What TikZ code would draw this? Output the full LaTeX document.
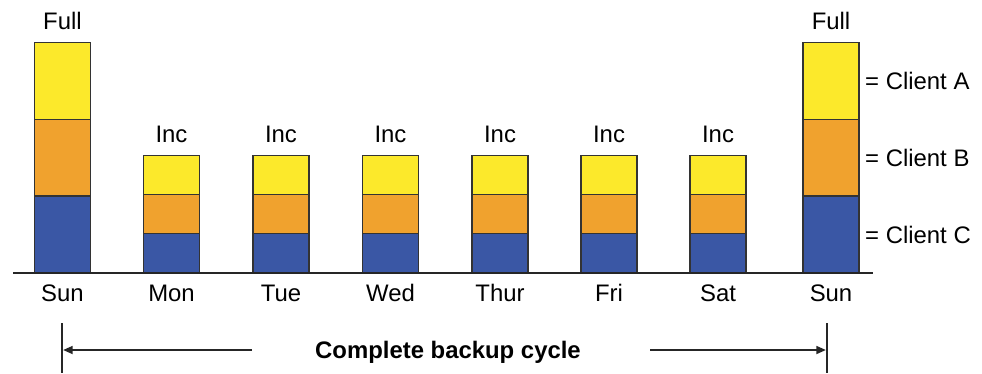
\documentclass[tikz,border=0pt]{standalone}
\usepackage{fontspec}
\setmainfont{Liberation Sans}
\usetikzlibrary{positioning, arrows.meta}
\definecolor{clientA}{RGB}{252,233,43}
\definecolor{clientB}{RGB}{240,162,46}
\definecolor{clientC}{RGB}{58,87,165}

\begin{document}
\begin{tikzpicture}[
        x=0.02cm, y=-0.02cm,
        seg/.style={rectangle, draw=black!80, line width=0.6pt, minimum width=1.12cm, inner sep=0pt, outer sep=0pt},
        segA/.style={seg, fill=clientA},
        segB/.style={seg, fill=clientB},
        segC/.style={seg, fill=clientC},
        full/.style={minimum height=1.54cm},
        inc/.style={minimum height=0.786cm},
        lbl/.style={font=\fontsize{13.6}{16}\selectfont},
        rule/.style={line width=1.1pt, black!85}
    ]
        \useasboundingbox (0,0) rectangle (982,373);

        % Full backups
        \node[segC, full, anchor=south] (SUN1C) at (62.5,273) {};
        \node[segB, full, above=0pt of SUN1C] (SUN1B) {};
        \node[segA, full, above=0pt of SUN1B] (SUN1A) {};
        \node[lbl, above=0.12cm of SUN1A] {Full};
        \node[lbl] (SUN1) at (62.5,293) {Sun};

        \node[segC, full, anchor=south] (SUN2C) at (831,273) {};
        \node[segB, full, above=0pt of SUN2C] (SUN2B) {};
        \node[segA, full, above=0pt of SUN2B] (SUN2A) {};
        \node[lbl, above=0.12cm of SUN2A] {Full};
        \node[lbl] (SUN2) at (831,293) {Sun};

        % Incremental backups
        \foreach \x/\d [count=\i] in {171.5/Mon, 281/Tue, 390.5/Wed, 500/Thur, 609/Fri, 718/Sat} {
            \node[segC, inc, anchor=south] (INC\i C) at (\x,273) {};
            \node[segB, inc, above=0pt of INC\i C] (INC\i B) {};
            \node[segA, inc, above=0pt of INC\i B] (INC\i A) {};
            \node[lbl, above=0.12cm of INC\i A] {Inc};
            \node[lbl] at (\x,293) {\d};
        }

        % Legend
        \node[lbl, right=0pt of SUN2A] {= Client A};
        \node[lbl, right=0pt of SUN2B] {= Client B};
        \node[lbl, right=0pt of SUN2C] {= Client C};

        % Baseline
        \coordinate (BASEL) at (13,273);
        \coordinate (BASER) at (873,273);
        \draw[rule] (BASEL) -- (BASER);

        % Cycle
        \coordinate (TICKL) at (62,323);
        \coordinate (TICKR) at (827,323);
        \draw[rule] (TICKL) -- ++(0,50);
        \draw[rule] (TICKR) -- ++(0,50);
        \node[lbl, font=\fontsize{13.6}{16}\selectfont\bfseries] (CYCLE) at (448,352) {Complete backup cycle};
        \coordinate (ARRL) at (252,350);
        \coordinate (ARRR) at (650,350);
        \draw[rule, -{Triangle[length=5.5pt, width=4.5pt]}, shorten >=0.6pt] (ARRL) -- (TICKL |- ARRL);
        \draw[rule, -{Triangle[length=5.5pt, width=4.5pt]}, shorten >=0.6pt] (ARRR) -- (TICKR |- ARRR);
    \end{tikzpicture}
\end{document}
